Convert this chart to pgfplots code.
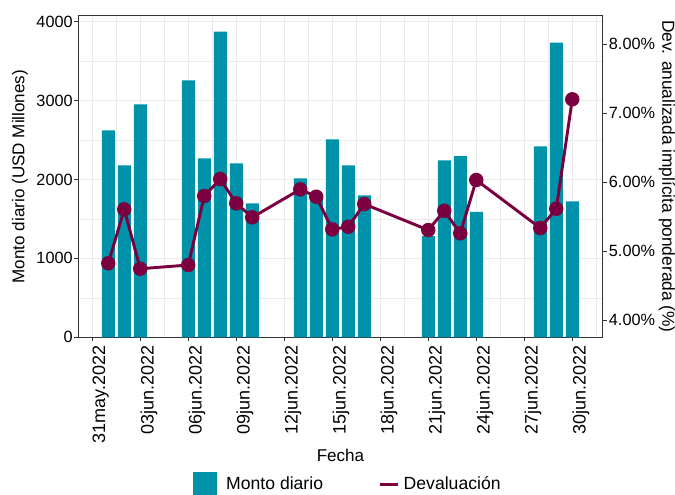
\documentclass[border=0pt]{standalone}
\usepackage{fontspec}
\setmainfont{Liberation Sans}
\usepackage{pgfplots}
\pgfplotsset{compat=1.18}
\definecolor{barcol}{RGB}{0,146,168}
\definecolor{linecol}{RGB}{122,0,64}
\definecolor{gridcol}{RGB}{235,235,235}
\definecolor{framecol}{RGB}{51,51,51}

\begin{document}
\begin{tikzpicture}
\pgfplotsset{
  common/.style={
    at={(58.7pt,117.5pt)}, anchor=south west,
    scale only axis, width=393.3pt, height=241.2pt,
    xmin=-0.875, xmax=31.9,
    tick align=outside,
    major tick length=3pt,
    minor tick length=0pt,
    every tick/.style={framecol, line width=0.6pt},
    /pgf/number format/assume math mode=true,
  }
}
\begin{axis}[common,
  ymin=0, ymax=4073,
  axis line style={framecol, line width=0.8pt},
  xtick={0,3,...,30},
  xticklabels={31may.2022,03jun.2022,06jun.2022,09jun.2022,12jun.2022,15jun.2022,18jun.2022,21jun.2022,24jun.2022,27jun.2022,30jun.2022},
  minor xtick={1.5,4.5,...,31.5},
  ytick={0,1000,2000,3000,4000},
  minor ytick={500,1500,2500,3500},
  xtick pos=left, ytick pos=left,
  grid=both,
  major grid style={gridcol, line width=0.8pt},
  minor grid style={gridcol, line width=0.45pt},
  xticklabel style={rotate=90, anchor=north east, inner sep=0pt, xshift=-3pt, font=\fontsize{13.5}{15}\selectfont},
  yticklabel style={inner sep=0pt, xshift=-1pt, font=\fontsize{12.2}{14}\selectfont, /pgf/number format/1000 sep={}},
  xlabel={Fecha},
  ylabel={Monto diario (USD Millones)},
  xlabel style={at={(axis description cs:0.5,-0.366)}, anchor=center, font=\fontsize{12.8}{15}\selectfont},
  ylabel style={at={(axis description cs:-0.1112,0.5)}, anchor=center, font=\fontsize{12.8}{15}\selectfont},
]
\addplot[ybar, bar width=0.8125, fill=barcol, draw=none] coordinates {
(1,2621) (2,2178) (3,2949)
(6,3253) (7,2267) (8,3872) (9,2204) (10,1698)
(13,2014) (14,1765) (15,2507) (16,2178) (17,1799)
(21,1281) (22,2241) (23,2296) (24,1590)
(28,2418) (29,3733) (30,1723)
};
\end{axis}
\begin{axis}[common,
  ymin=3.749, ymax=8.410,
  axis x line=none,
  axis y line*=right,
  axis line style={framecol, line width=0.8pt},
  ytick={4,5,6,7,8},
  yticklabels={4.00\%,5.00\%,6.00\%,7.00\%,8.00\%},
  yticklabel style={inner sep=0pt, xshift=1.5pt, font=\fontsize{12.2}{14}\selectfont},
  ylabel={Dev. anualizada implícita ponderada (\%)},
  ylabel style={at={(axis description cs:1.1226,0.5)}, anchor=center, rotate=180, font=\fontsize{13}{15}\selectfont},
  legend columns=2,
  legend style={at={(axis description cs:0.2182,-0.4562)}, anchor=west, draw=none, fill=none,
    inner sep=0pt, outer sep=0pt, font=\fontsize{13.2}{15}\selectfont,
    nodes={inner sep=0pt},
    /tikz/every odd column/.append style={column sep=3.3pt},
    /tikz/every even column/.append style={column sep=41.5pt}},
  legend cell align=left,
]
\addlegendimage{legend image code/.code={\fill[barcol] (0pt,-8.6pt) rectangle (17.25pt,8.6pt); \path (21.45pt,0pt);}}
\addlegendentry{Monto diario}
\addplot[linecol, line width=2.2pt, mark=*, mark size=4.3pt, mark options={solid, fill=linecol, draw=none},
  legend image code/.code={\draw[linecol, line width=2.2pt] (0pt,0pt) -- (13.5pt,0pt);}] coordinates {
(1,4.822) (2,5.604) (3,4.743)
(6,4.797) (7,5.797) (8,6.043) (9,5.691) (10,5.488)
(13,5.894) (14,5.787) (15,5.314) (16,5.352) (17,5.681)
(21,5.304) (22,5.584) (23,5.256) (24,6.029)
(28,5.333) (29,5.613) (30,7.199)
};
\addlegendentry{Devaluación}
\end{axis}
\pgfresetboundingbox
\path (0,0) rectangle (506.25pt,370.5pt);
\end{tikzpicture}
\end{document}
